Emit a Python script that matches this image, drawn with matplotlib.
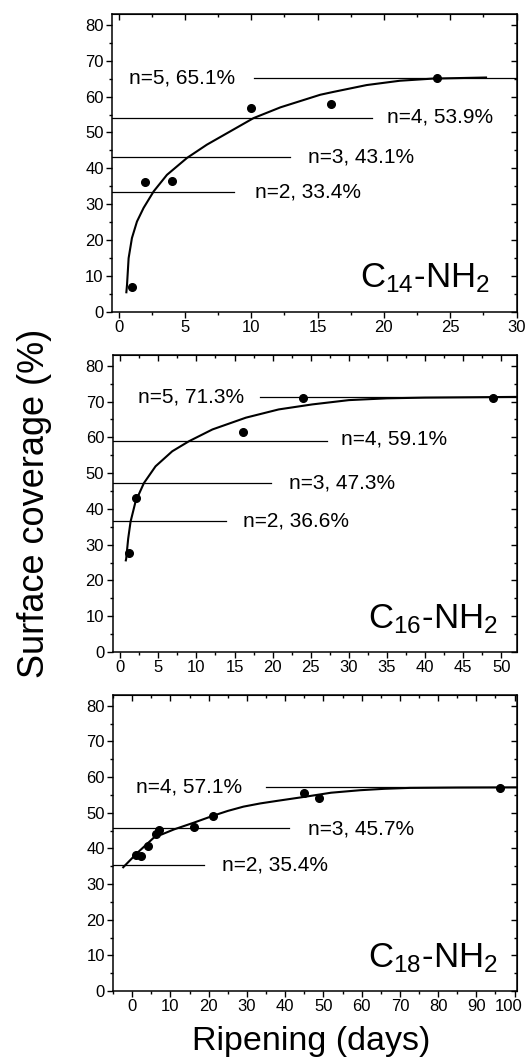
import matplotlib
matplotlib.use('Agg')
import matplotlib.pyplot as plt
import matplotlib.transforms as mtransforms
from matplotlib.ticker import MultipleLocator

plt.rcParams['font.family'] = ['Liberation Sans', 'DejaVu Sans']
plt.rcParams['mathtext.fontset'] = 'custom'
plt.rcParams['mathtext.rm'] = 'Liberation Sans'
plt.rcParams['mathtext.it'] = 'Liberation Sans'

# C14-NH2
c14_days = [1, 2, 4, 10, 16, 24]
c14_cov = [7.0, 36.1, 36.4, 56.7, 57.8, 65.3]
c14_fit_x = [0.58, 0.63, 0.75, 1.0, 1.38, 1.88, 2.64, 3.64, 5.15, 6.65, 8.41, 10.17, 12.2,
             15.2, 16.2, 18.7, 21.2, 23.7, 27.7]
c14_fit_y = [5.5, 7.6, 15.0, 20.6, 25.2, 29.0, 33.6, 38.2, 42.9, 46.6, 50.3, 54.0, 57.0,
             60.5, 61.3, 63.2, 64.4, 65.0, 65.3]
c14_levels = [65.1, 53.9, 43.1, 33.4]
c14_labels = ['n=5, 65.1%', 'n=4, 53.9%', 'n=3, 43.1%', 'n=2, 33.4%']
c14_spans = [(10.2, 30), (-0.5, 19.1), (-0.5, 12.9), (-0.5, 8.7)]
c14_label_pos = [(0.75, 65.2), (20.2, 54.3), (14.3, 43.3), (10.3, 33.3)]

# C16-NH2
c16_days = [1.1, 2.1, 16.1, 24.0, 48.9]
c16_cov = [27.7, 43.1, 61.6, 70.9, 70.9]
c16_fit_x = [0.74, 0.79, 1.05, 1.36, 2.01, 3.11, 4.64, 6.83, 9.02, 12.1, 16.5, 20.8, 25.2,
             30.0, 35.0, 40.0, 52.0]
c16_fit_y = [25.6, 26.1, 31.7, 36.4, 42.0, 47.2, 51.9, 56.1, 58.9, 62.2, 65.5, 67.8, 69.2,
             70.4, 70.9, 71.1, 71.3]
c16_levels = [71.3, 59.1, 47.3, 36.6]
c16_labels = ['n=5, 71.3%', 'n=4, 59.1%', 'n=3, 47.3%', 'n=2, 36.6%']
c16_spans = [(18.4, 52), (-1, 27.1), (-1, 19.8), (-1, 13.9)]
c16_label_pos = [(2.3, 71.4), (29.0, 59.5), (22.1, 47.2), (16.1, 36.6)]

# C18-NH2
c18_days = [0.9, 2.35, 4.1, 6.1, 7.1, 16.1, 21.1, 44.8, 48.8, 96.3]
c18_cov = [38.1, 37.8, 40.6, 44.1, 45.1, 46.0, 49.1, 55.6, 54.2, 56.9]
c18_fit_x = [-2.35, 1.3, 5.65, 10.9, 16.1, 21.3, 25.0, 29.1, 33.5, 37.8, 44.8, 52.0, 59.6,
             66.0, 72.6, 85.0, 100.5]
c18_fit_y = [34.7, 38.7, 43.0, 45.3, 47.2, 49.2, 50.5, 51.7, 52.6, 53.3, 54.4, 55.6, 56.3,
             56.7, 56.95, 57.05, 57.1]
c18_levels = [57.1, 45.7, 35.4]
c18_labels = ['n=4, 57.1%', 'n=3, 45.7%', 'n=2, 35.4%']
c18_spans = [(35.0, 100.5), (-5, 41.0), (-5, 18.9)]
c18_label_pos = [(1.1, 57.3), (45.9, 45.5), (23.5, 35.2)]

panels = [
    dict(days=c14_days, cov=c14_cov, fx=c14_fit_x, fy=c14_fit_y, levels=c14_levels,
         labels=c14_labels, spans=c14_spans, lpos=c14_label_pos,
         name='C$_{14}$-NH$_2$', xlim=(-0.5, 30), xmaj=5, xmin=2.5, npos=(28.0, 9.5),
         rect=[0.213, 0.7048, 0.769, 0.282]),
    dict(days=c16_days, cov=c16_cov, fx=c16_fit_x, fy=c16_fit_y, levels=c16_levels,
         labels=c16_labels, spans=c16_spans, lpos=c16_label_pos,
         name='C$_{16}$-NH$_2$', xlim=(-1, 52), xmaj=5, xmin=2.5, npos=(49.5, 9.2),
         rect=[0.214, 0.3832, 0.768, 0.2809]),
    dict(days=c18_days, cov=c18_cov, fx=c18_fit_x, fy=c18_fit_y, levels=c18_levels,
         labels=c18_labels, spans=c18_spans, lpos=c18_label_pos,
         name='C$_{18}$-NH$_2$', xlim=(-5, 100.5), xmaj=10, xmin=5, npos=(95.7, 9.2),
         rect=[0.215, 0.0624, 0.767, 0.2801]),
]

fig = plt.figure(figsize=(5.26, 10.57), dpi=100)

for p in panels:
    ax = fig.add_axes(p['rect'])
    for lev, (x0, x1) in zip(p['levels'], p['spans']):
        ax.plot([x0, x1], [lev, lev], color='black', lw=0.9)
    for lab, (tx, ty) in zip(p['labels'], p['lpos']):
        ax.text(tx, ty, lab, fontsize=15, ha='left', va='center')
    ax.plot(p['fx'], p['fy'], color='black', lw=1.5)
    ax.plot(p['days'], p['cov'], 'o', color='black', ms=5.5)
    ax.text(p['npos'][0], p['npos'][1], p['name'], fontsize=25, ha='right', va='center')
    ax.set_xlim(*p['xlim'])
    ax.set_ylim(0, 83)
    ax.tick_params(which='both', direction='out', labelsize=12, pad=2)
    ax.tick_params(which='major', length=4, width=1)
    ax.tick_params(which='minor', length=2.5, width=1)

    # top and right axes carry inward ticks, no labels
    top = ax.secondary_xaxis('top')
    right = ax.secondary_yaxis('right')
    for axis in [ax.xaxis, top.xaxis]:
        axis.set_major_locator(MultipleLocator(p['xmaj']))
        axis.set_minor_locator(MultipleLocator(p['xmin']))
    for axis in [ax.yaxis, right.yaxis]:
        axis.set_major_locator(MultipleLocator(10))
        axis.set_minor_locator(MultipleLocator(5))
    for sec in (top, right):
        sec.tick_params(which='both', direction='in', width=1)
        sec.tick_params(which='major', length=4)
        sec.tick_params(which='minor', length=2.5)
    top.set_xticklabels([])
    right.set_yticklabels([])
    for s in ax.spines.values():
        s.set_linewidth(1.1)
    last_ax = ax

# keep the "100" label inside the canvas
fig.canvas.draw()
shift = mtransforms.ScaledTranslation(-4 / 72, 0, fig.dpi_scale_trans)
for lbl in last_ax.get_xticklabels():
    if lbl.get_text() == '100':
        lbl.set_transform(lbl.get_transform() + shift)

fig.text(0.065, 0.524, 'Surface coverage (%)', rotation=90, fontsize=26, ha='center', va='center')
fig.text(0.591, 0.0142, 'Ripening (days)', fontsize=24.5, ha='center', va='center')

fig.savefig('out.png', dpi=100)
